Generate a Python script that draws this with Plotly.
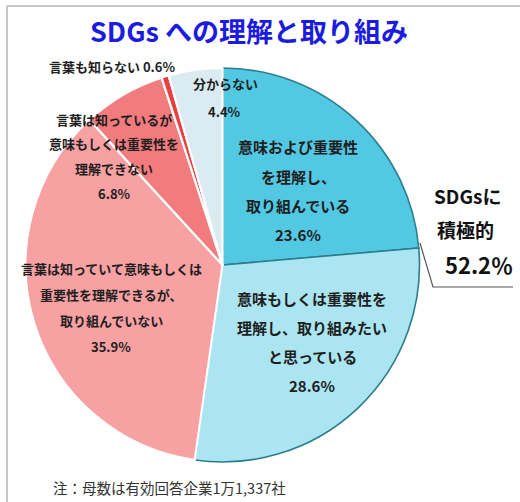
import plotly.graph_objects as go

# ---- data ----
categories = [
    "意味および重要性を理解し、取り組んでいる",
    "意味もしくは重要性を理解し、取り組みたいと思っている",
    "言葉は知っていて意味もしくは重要性を理解できるが、取り組んでいない",
    "言葉は知っているが意味もしくは重要性を理解できない",
    "言葉も知らない",
    "分からない",
]
values = [23.6, 28.6, 35.9, 6.8, 0.6, 4.4]
title_text = "SDGs への理解と取り組み"
note_text = "注：母数は有効回答企業1万1,337社"
callout_lines = ["SDGsに", "積極的", "52.2％"]

# ---- styles ----
W, H = 520, 502
colors = ["#52C8E2", "#AAE5F1", "#F8A1A3", "#F27B7D", "#E8403F", "#DBEBF2"]
line_colors = ["#2C7E8E", "#2C7E8E", "#FFFFFF", "#FFFFFF", "#FFFFFF", "#FFFFFF"]
line_widths = [1.6, 1.6, 2.2, 2.2, 2.2, 2.2]
FONT = "Noto Sans CJK JP"

cx, cy, r = 222.5, 265, 197


def px(x):
    return x / W


def py(y):
    return 1 - y / H


fig = go.Figure(
    go.Pie(
        labels=categories,
        values=values,
        sort=False,
        direction="clockwise",
        rotation=0,
        textinfo="none",
        hoverinfo="label+value",
        marker=dict(colors=colors, line=dict(color=line_colors, width=line_widths)),
        domain=dict(x=[px(cx - r), px(cx + r)], y=[py(cy + r), py(cy - r)]),
    )
)

annotations = []


def add_text(text, x, y, size, color="#1E1E1E", bold=True, family=FONT):
    t = f"<b>{text}</b>" if bold else text
    annotations.append(
        dict(
            text=t, x=px(x), y=py(y), xref="paper", yref="paper",
            xanchor="center", yanchor="middle", showarrow=False,
            font=dict(family=family, size=size, color=color),
        )
    )


# title
add_text(title_text, 249, 31, 27, color="#1C1CE0")

# slice labels (blue slices)
lab1 = ["意味および重要性", "を理解し、", "取り組んでいる", f"{values[0]}%"]
for i, t in enumerate(lab1):
    add_text(t, 298, 147 + i * 29, 15)
lab2 = ["意味もしくは重要性を", "理解し、取り組みたい", "と思っている", f"{values[1]}%"]
for i, t in enumerate(lab2):
    add_text(t, 312, 298 + i * 29, 15)

# pink slices
lab3 = ["言葉は知っていて意味もしくは", "重要性を理解できるが、", "取り組んでいない", f"{values[2]}%"]
for i, t in enumerate(lab3):
    add_text(t, 111, 268 + i * 26, 13)
lab4 = ["言葉は知っているが", "意味もしくは重要性を", "理解できない", f"{values[3]}%"]
for i, t in enumerate(lab4):
    add_text(t, 114, 119 + i * 24.7, 13)

add_text(f"言葉も知らない {values[4]}%", 112, 66, 13)
add_text("分からない", 225, 84, 13)
add_text(f"{values[5]}%", 224, 111, 13)

# callout
add_text(callout_lines[0], 467, 195, 19, color="#111111")
add_text(callout_lines[1], 465, 229, 19, color="#111111")
add_text(callout_lines[2], 479, 264, 22, color="#111111")

# note
add_text(note_text, 169, 487, 14.5, color="#333333", bold=False)

shapes = [
    # callout line
    dict(type="path", xref="paper", yref="paper",
         path=f"M {px(420)} {py(243)} L {px(433)} {py(287)} L {px(513)} {py(287)}",
         line=dict(color="#555555", width=1.2)),
    # frame
    dict(type="line", xref="paper", yref="paper", x0=px(7), x1=1, y0=py(6), y1=py(6),
         line=dict(color="#C6C6C6", width=2)),
    dict(type="line", xref="paper", yref="paper", x0=px(7), x1=px(7), y0=py(6), y1=0,
         line=dict(color="#C6C6C6", width=2)),
]

fig.update_layout(
    width=W, height=H,
    margin=dict(l=0, r=0, t=0, b=0),
    paper_bgcolor="white", plot_bgcolor="white",
    showlegend=False,
    annotations=annotations,
    shapes=shapes,
)

fig.write_html(
    "out.html",
    config={"displayModeBar": False},
    post_script="document.body.style.margin='0px';document.body.style.overflow='hidden';",
)
